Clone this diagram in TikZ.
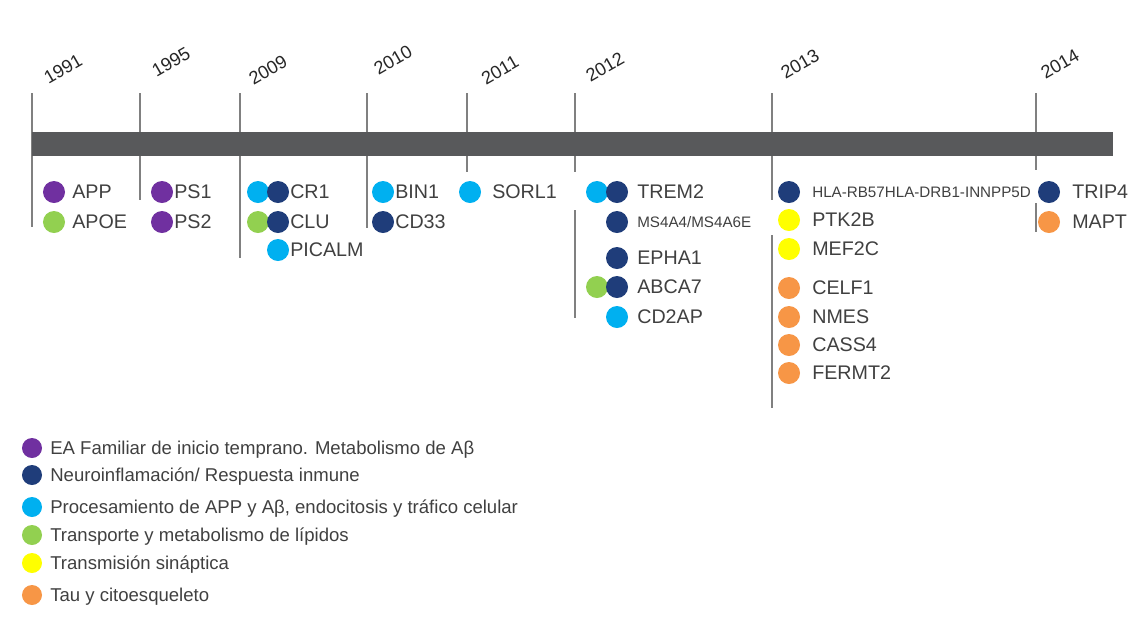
\documentclass[tikz,border=0pt]{standalone}
\usepackage{fontspec}
\setmainfont{Liberation Sans}
\definecolor{famviolet}{HTML}{7030A0}
\definecolor{immunenavy}{HTML}{1F3D7A}
\definecolor{appcyan}{HTML}{00B0F0}
\definecolor{lipidgreen}{HTML}{92D050}
\definecolor{synyellow}{HTML}{FFFF00}
\definecolor{tauorange}{HTML}{F79646}
\definecolor{bargray}{HTML}{58595B}
\definecolor{linegray}{HTML}{808080}
\definecolor{txtgray}{HTML}{404040}
\definecolor{yeargray}{HTML}{262626}
\begin{document}
\begin{tikzpicture}[
        x=0.025cm, y=-0.025cm,
        gdot/.style={
            circle,
            inner sep=0pt,
            minimum size=0.55cm
        },
        keydot/.style={
            circle,
            inner sep=0pt,
            minimum size=0.5cm
        },
        gene/.style={
            anchor=west,
            inner sep=0pt,
            text depth=0pt,
            text=txtgray,
            font=\fontsize{14}{16}\selectfont
        },
        smallgene/.style={
            gene,
            font=\fontsize{10.8}{13}\selectfont
        },
        yearlabel/.style={
            rotate=30,
            inner sep=0pt,
            text=yeargray,
            font=\fontsize{13}{15}\selectfont
        },
        legendtext/.style={
            anchor=west,
            inner sep=0pt,
            text depth=0pt,
            text=txtgray,
            font=\fontsize{13.2}{15}\selectfont
        },
        yearline/.style={
            draw=linegray,
            line width=1.6pt
        }
    ]
        \useasboundingbox (0,0) rectangle (1130,627);

        % Year lines
        \draw[yearline] (32,93) -- (32,227);
        \draw[yearline] (140,93) -- (140,200);
        \draw[yearline] (240,93) -- (240,258);
        \draw[yearline] (367,93) -- (367,228);
        \draw[yearline] (467,93) -- (467,172);
        \draw[yearline] (575,93) -- (575,172);
        \draw[yearline] (575,210) -- (575,318);
        \draw[yearline] (772,93) -- (772,200);
        \draw[yearline] (772,235) -- (772,408);
        \draw[yearline] (1036,93) -- (1036,170);
        \draw[yearline] (1036,203) -- (1036,232);

        % Timeline bar
        \fill[bargray] (32,132) rectangle (1113,156);

        % Years
        \node[yearlabel] (y1991) at (63,69) {1991};
        \node[yearlabel] (y1995) at (171,62) {1995};
        \node[yearlabel] (y2009) at (268,70) {2009};
        \node[yearlabel] (y2010) at (393,60) {2010};
        \node[yearlabel] (y2011) at (500,70) {2011};
        \node[yearlabel] (y2012) at (605,67) {2012};
        \node[yearlabel] (y2013) at (800,64) {2013};
        \node[yearlabel] (y2014) at (1060,64) {2014};

        % 1991
        \node[gdot, fill=famviolet] (d-app) at (54,192) {};
        \node[gene] (l-app) at (72,192) {APP};
        \node[gdot, fill=lipidgreen] (d-apoe) at (54,222) {};
        \node[gene] (l-apoe) at (72,222) {APOE};

        % 1995
        \node[gdot, fill=famviolet] (d-ps1) at (162,192) {};
        \node[gene] (l-ps1) at (174,192) {PS1};
        \node[gdot, fill=famviolet] (d-ps2) at (162,222) {};
        \node[gene] (l-ps2) at (174,222) {PS2};

        % 2009
        \node[gdot, fill=appcyan] (d-cr1a) at (258,192) {};
        \node[gdot, fill=immunenavy] (d-cr1b) at (278,192) {};
        \node[gene] (l-cr1) at (290,192) {CR1};
        \node[gdot, fill=lipidgreen] (d-clua) at (258,222) {};
        \node[gdot, fill=immunenavy] (d-club) at (278,222) {};
        \node[gene] (l-clu) at (290,222) {CLU};
        \node[gdot, fill=appcyan] (d-picalm) at (278,250) {};
        \node[gene] (l-picalm) at (290,250) {PICALM};

        % 2010
        \node[gdot, fill=appcyan] (d-bin1) at (383,192) {};
        \node[gene] (l-bin1) at (395,192) {BIN1};
        \node[gdot, fill=immunenavy] (d-cd33) at (383,222) {};
        \node[gene] (l-cd33) at (395,222) {CD33};

        % 2011
        \node[gdot, fill=appcyan] (d-sorl1) at (470,192) {};
        \node[gene] (l-sorl1) at (492,192) {SORL1};

        % 2012
        \node[gdot, fill=appcyan] (d-trem2a) at (597,192) {};
        \node[gdot, fill=immunenavy] (d-trem2b) at (617,192) {};
        \node[gene] (l-trem2) at (637,192) {TREM2};
        \node[gdot, fill=immunenavy] (d-ms4a) at (617,222) {};
        \node[smallgene] (l-ms4a) at (637,222) {MS4A4/MS4A6E};
        \node[gdot, fill=immunenavy] (d-epha1) at (617,258) {};
        \node[gene] (l-epha1) at (637,258) {EPHA1};
        \node[gdot, fill=lipidgreen] (d-abca7a) at (597,287) {};
        \node[gdot, fill=immunenavy] (d-abca7b) at (617,287) {};
        \node[gene] (l-abca7) at (637,287) {ABCA7};
        \node[gdot, fill=appcyan] (d-cd2ap) at (617,317) {};
        \node[gene] (l-cd2ap) at (637,317) {CD2AP};

        % 2013
        \node[gdot, fill=immunenavy] (d-hla) at (789,192) {};
        \node[smallgene] (l-hla) at (812,192) {HLA-RB57HLA-DRB1-INNPP5D};
        \node[gdot, fill=synyellow] (d-ptk2b) at (789,220) {};
        \node[gene] (l-ptk2b) at (812,220) {PTK2B};
        \node[gdot, fill=synyellow] (d-mef2c) at (789,249) {};
        \node[gene] (l-mef2c) at (812,249) {MEF2C};
        \node[gdot, fill=tauorange] (d-celf1) at (789,288) {};
        \node[gene] (l-celf1) at (812,288) {CELF1};
        \node[gdot, fill=tauorange] (d-nmes) at (789,317) {};
        \node[gene] (l-nmes) at (812,317) {NMES};
        \node[gdot, fill=tauorange] (d-cass4) at (789,345) {};
        \node[gene] (l-cass4) at (812,345) {CASS4};
        \node[gdot, fill=tauorange] (d-fermt2) at (789,373) {};
        \node[gene] (l-fermt2) at (812,373) {FERMT2};

        % 2014
        \node[gdot, fill=immunenavy] (d-trip4) at (1049,192) {};
        \node[gene] (l-trip4) at (1072,192) {TRIP4};
        \node[gdot, fill=tauorange] (d-mapt) at (1049,222) {};
        \node[gene] (l-mapt) at (1072,222) {MAPT};

        % Legend
        \node[keydot, fill=famviolet] (k-fam) at (32,448) {};
        \node[legendtext] (t-fam) at (50,448) {EA Familiar de inicio temprano. Metabolismo de Aβ};
        \node[keydot, fill=immunenavy] (k-imm) at (32,475) {};
        \node[legendtext] (t-imm) at (50,475) {Neuroinflamación/ Respuesta inmune};
        \node[keydot, fill=appcyan] (k-app) at (32,507) {};
        \node[legendtext] (t-app) at (50,507) {Procesamiento de APP y Aβ, endocitosis y tráfico celular};
        \node[keydot, fill=lipidgreen] (k-lip) at (32,535) {};
        \node[legendtext] (t-lip) at (50,535) {Transporte y metabolismo  de lípidos};
        \node[keydot, fill=synyellow] (k-syn) at (32,563) {};
        \node[legendtext] (t-syn) at (50,563) {Transmisión sináptica};
        \node[keydot, fill=tauorange] (k-tau) at (32,595) {};
        \node[legendtext] (t-tau) at (50,595) {Tau y citoesqueleto};
    \end{tikzpicture}
\end{document}
